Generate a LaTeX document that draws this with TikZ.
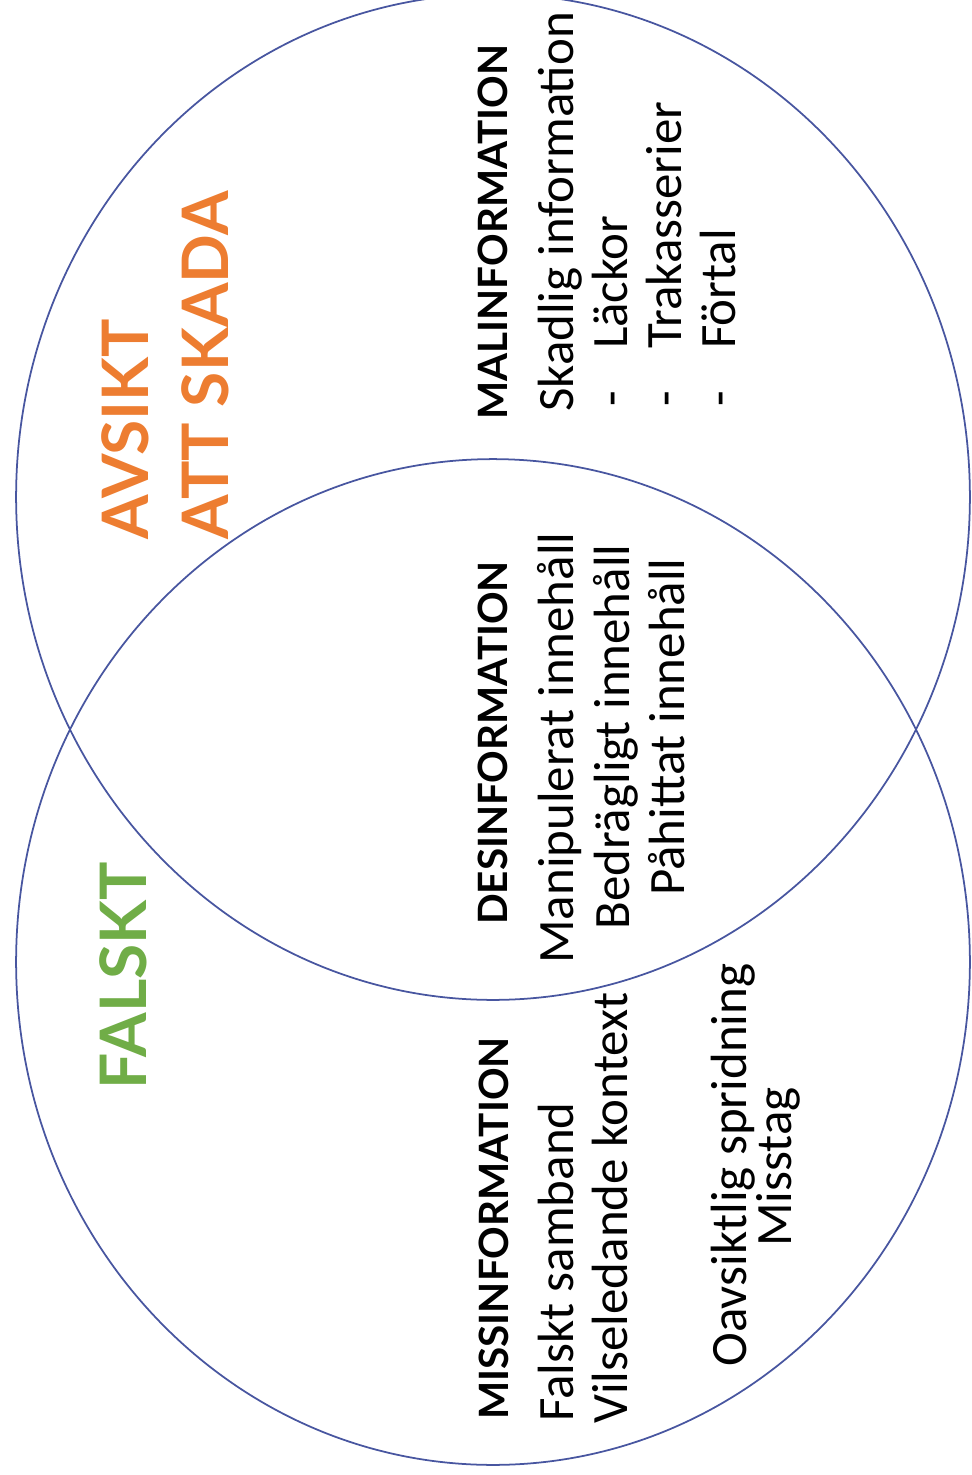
\documentclass[tikz,border=0pt]{standalone}
\usepackage{fontspec}
\usetikzlibrary{shapes.geometric}
\newfontfamily\bodyfont{Carlito}
\newfontfamily\headfont{Lato}
\definecolor{vennblue}{RGB}{72,86,160}
\definecolor{falsktgreen}{RGB}{112,173,71}
\definecolor{skadaorange}{RGB}{237,125,49}

\begin{document}
\begin{tikzpicture}[x=0.02cm, y=-0.02cm,
				venn/.style={ellipse, draw=vennblue, line width=1pt, inner sep=0pt, minimum width=19.08cm, minimum height=20.12cm},
				biglabel/.style={rotate=90, anchor=base west, inner sep=0pt, font=\headfont\bfseries\fontsize{36.5}{40}\selectfont},
				rubrik/.style={rotate=90, inner sep=0pt, font=\headfont\bfseries\fontsize{23}{26}\selectfont},
				rad/.style={rotate=90, inner sep=0pt, font=\bodyfont\fontsize{29}{31}\selectfont}]
				\useasboundingbox (0,0) rectangle (971,1475);
				% the two sets
				\node[venn] (avsikt) at (493,497) {};
				\node[venn] (falskt) at (493,962) {};
				% set labels
				\node[biglabel, text=skadaorange] (avsiktL) at (148,540) {AVSIKT};
				\node[biglabel, text=skadaorange] (skadaL)  at (228,540) {ATT SKADA};
				\node[biglabel, text=falsktgreen] (falsktL) at (146,1090) {FALSKT};
				% malinformation
				\node[rubrik, anchor=base west] (mal)   at (507,420) {MALINFORMATION};
				\node[rad, anchor=base west]    (mal1)  at (573,412) {Skadlig information};
				\node[rad, anchor=base west]    (mal2)  at (627,407) {-\hspace{24pt}Läckor};
				\node[rad, anchor=base west]    (mal3)  at (681,407) {-\hspace{24pt}Trakasserier};
				\node[rad, anchor=base west]    (mal4)  at (735,407) {-\hspace{24pt}Förtal};
				% desinformation
				\node[rubrik, anchor=base] (des)  at (507,743) {DESINFORMATION};
				\node[rad, anchor=base]    (des1) at (573,748) {Manipulerat innehåll};
				\node[rad, anchor=base]    (des2) at (629,737) {Bedrägligt innehåll};
				\node[rad, anchor=base]    (des3) at (684,727) {Påhittat innehåll};
				% missinformation
				\node[rubrik, anchor=base west] (miss)  at (508,1420) {MISSINFORMATION};
				\node[rad, anchor=base west]    (miss1) at (573,1422) {Falskt samband};
				\node[rad, anchor=base west]    (miss2) at (627,1424) {Vilseledande kontext};
				\node[rad, anchor=base]         (miss3) at (746,1165) {Oavsiktlig spridning};
				\node[rad, anchor=base]         (miss4) at (791,1167) {Misstag};
			\end{tikzpicture}
\end{document}
